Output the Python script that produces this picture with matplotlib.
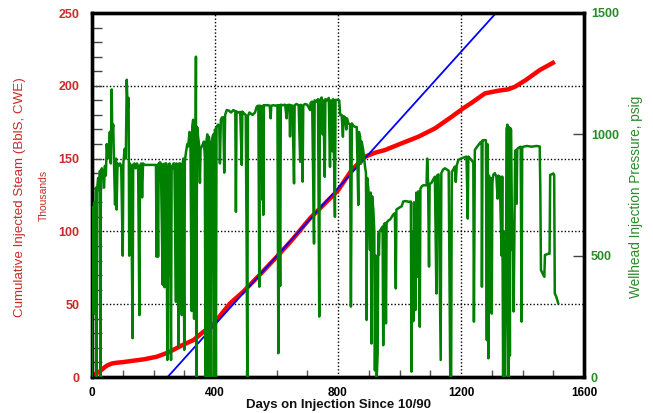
import matplotlib
matplotlib.use("Agg")
import matplotlib.pyplot as plt
from matplotlib.ticker import MultipleLocator, FixedLocator

# ---------------- data ----------------
steam_days = [0, 5, 15, 26, 40, 50, 65, 80, 100, 135, 170, 210, 250, 290, 330, 362,
              394, 420, 449, 470, 492, 540, 601, 650, 709, 750, 801, 844, 888, 920,
              953, 1007, 1061, 1115, 1170, 1207, 1235, 1278, 1321, 1354, 1376, 1411,
              1456, 1505]
steam_k = [0, 1.5, 2.5, 4.0, 6.5, 8.0, 9.3, 9.8, 10.2, 11.2, 12.2, 13.9, 17.0, 21.5,
           25.4, 31.0, 35.7, 43.0, 50.6, 54.5, 58.6, 69.0, 82.6, 94.0, 109.0, 117.6,
           128.4, 142.0, 151.3, 154.0, 155.9, 160.5, 165.0, 170.7, 178.8, 184.5, 188.4,
           194.8, 196.6, 197.6, 199.4, 204.0, 210.8, 216.5]

target_days = [246, 1314]
target_k = [0, 250]

press_days = [0, 1, 3, 5, 7, 9, 11, 13, 15, 17, 20, 23, 26, 27, 29, 32, 36, 39, 42,
              45, 48, 51, 55, 58, 61, 64, 66, 69, 72, 75, 78, 80, 83, 87, 91, 95, 100, 102,
              106, 110, 113, 116, 119, 121, 123, 127, 132, 134, 138, 142, 146, 150, 154,
              156, 160, 163, 166, 170, 180, 190, 200, 208, 210, 212, 215, 217, 221, 224,
              230, 232, 236, 238, 242, 245, 247, 250, 252, 257, 259, 262, 265, 268, 273,
              275, 278, 281, 283, 287, 292, 294, 297, 300, 302, 306, 310, 313, 317, 320,
              324, 326, 329, 332, 334, 337, 338, 339, 340, 342, 345, 348, 351, 353, 357,
              361, 364, 367, 369, 371, 375, 378, 380, 384, 387, 389, 392, 395, 397, 400,
              403, 405, 410, 414, 416, 419, 423, 427, 430, 433, 438, 445, 452, 460, 466,
              468, 470, 476, 482, 487, 489, 495, 500, 503, 505, 507, 512, 517, 522, 530,
              536, 541, 544, 546, 551, 554, 556, 557, 559, 565, 572, 578, 581, 583, 590,
              597, 603, 606, 608, 612, 614, 620, 628, 633, 635, 642, 644, 646, 652, 657,
              659, 665, 672, 677, 679, 685, 687, 693, 700, 709, 711, 716, 722, 724, 730,
              735, 739, 741, 747, 750, 752, 757, 759, 765, 770, 774, 776, 782, 784, 790,
              792, 798, 804, 807, 812, 816, 818, 823, 827, 829, 834, 839, 842, 845, 850,
              855, 861, 866, 868, 872, 875, 877, 882, 885, 888, 891, 893, 895, 899, 904,
              906, 909, 911, 915, 918, 920, 923, 926, 929, 931, 933, 935, 940, 945, 947,
              950, 953, 956, 958, 964, 970, 975, 980, 985, 988, 990, 996, 1002, 1007,
              1012, 1020, 1030, 1037, 1039, 1041, 1045, 1047, 1052, 1055, 1059, 1061,
              1066, 1068, 1072, 1077, 1084, 1088, 1090, 1093, 1096, 1098, 1104, 1110,
              1115, 1120, 1122, 1127, 1134, 1136, 1142, 1148, 1154, 1160, 1165, 1168,
              1170, 1175, 1180, 1183, 1186, 1191, 1200, 1210, 1218, 1222, 1224, 1230,
              1236, 1240, 1242, 1245, 1250, 1256, 1262, 1267, 1268, 1270, 1275, 1281,
              1284, 1286, 1289, 1291, 1294, 1297, 1300, 1302, 1305, 1310, 1315, 1319,
              1321, 1326, 1332, 1334, 1337, 1340, 1343, 1346, 1348, 1351, 1354, 1356,
              1359, 1361, 1363, 1365, 1367, 1369, 1371, 1373, 1376, 1378, 1381, 1383,
              1388, 1394, 1397, 1399, 1402, 1415, 1430, 1445, 1456, 1458, 1460, 1464,
              1468, 1471, 1473, 1478, 1484, 1488, 1490, 1495, 1500, 1503, 1505, 1510, 1516]
press_psig = [0, 660, 700, 450, 720, 260, 600, 780, 0, 780, 820, 770, 850, 0, 830, 860, 840, 780, 870,
              830, 960, 900, 940, 1010, 880, 1185, 1000, 1040, 860, 710, 900, 690, 880, 870, 880, 870, 500, 880,
              940, 900, 1225, 1100, 1150, 500, 880, 870, 160, 875, 880, 860, 880, 870, 255,
              870, 880, 740, 880, 874, 874, 874, 874, 874, 496, 874, 496, 880, 885, 880,
              380, 878, 370, 880, 880, 70, 870, 420, 880, 70, 870, 860, 880, 880, 310,
              880, 870, 124, 880, 880, 255, 870, 900, 112, 890, 930, 960, 950, 1010, 1000,
              272, 1030, 1060, 240, 1040, 1000, 1320, 0, 491, 1030, 990, 960, 800, 940, 950,
              960, 970, 907, 0, 960, 1000, 0, 990, 940, 0, 960, 990, 1000, 0, 1020,
              0, 1030, 1040, 1030, 880, 1060, 1070, 1070, 842, 1080, 1100, 1098, 1090, 1100, 1095,
              681, 1094, 1090, 1092, 874, 1094, 1085, 1080, 516, 0, 1075, 1090, 1085, 1080, 1090,
              1115, 1118, 372, 1118, 1115, 730, 1118, 668, 1120, 1120, 1120, 1118, 1066, 1118, 1120,
              1118, 1120, 98, 1120, 375, 1122, 1120, 1122, 1066, 1120, 1122, 991, 1120, 1118, 798,
              1120, 1125, 1120, 887, 1122, 805, 1120, 1125, 1122, 1100, 1130, 1135, 550, 1140, 1135,
              1145, 249, 1140, 1152, 1000, 1140, 825, 1145, 1140, 1150, 866, 1140, 930, 1145, 660,
              1142, 1142, 1140, 1080, 1080, 990, 1075, 1070, 1020, 1066, 1045, 1040, 290, 1045, 1035,
              1031, 1030, 709, 1010, 990, 880, 970, 935, 900, 866, 840, 235, 820, 770, 524,
              760, 138, 745, 688, 600, 27, 500, 0, 98, 593, 503, 600, 610, 620, 131,
              630, 634, 221, 636, 645, 650, 660, 670, 675, 365, 690, 695, 700, 703,
              723, 725, 722, 723, 22, 600, 230, 720, 276, 760, 413, 765,
              207, 775, 785, 790, 790, 790, 900, 800, 455, 795, 800, 815,
              825, 344, 830, 835, 70, 840, 855, 860, 855, 850, 0, 0,
              845, 855, 867, 804, 870, 894, 900, 905, 908, 653, 908, 900,
              890, 885, 228, 935, 945, 955, 965, 970, 372, 975, 976, 976,
              152, 960, 77, 830, 560, 820, 261, 800, 833, 840, 826, 735,
              830, 826, 500, 826, 0, 600, 0, 300, 1020, 1040, 0, 1030,
              88, 1025, 1018, 714, 524, 600, 270, 500, 930, 935, 714, 940,
              945, 949, 228, 945, 949, 952, 949, 952, 950, 764, 441, 430,
              420, 413, 503, 505, 508, 508, 833, 835, 839, 833, 345, 330, 304]

x_ticks = [0, 400, 800, 1200, 1600]
left_ticks = [0, 50, 100, 150, 200, 250]
right_ticks = [0, 500, 1000, 1500]

RED = "#ff0000"
GREEN = "#008000"
BLUE = "#0000ff"
RED_TXT = "#cc2a2a"
GREEN_TXT = "#2a8a2a"

plt.rcParams["font.family"] = ["Liberation Sans", "DejaVu Sans"]

fig = plt.figure(figsize=(6.53, 4.13), dpi=100)
ax1 = fig.add_axes([92 / 653, 1 - 377 / 413, 492 / 653, 364 / 413])
ax2 = ax1.twinx()

ax1.plot(steam_days, steam_k, color=RED, lw=3.2, solid_capstyle="butt", zorder=3)
ax1.plot(target_days, target_k, color=BLUE, lw=1.3, zorder=4)
ax2.plot(press_days, press_psig, color=GREEN, lw=1.8, zorder=3)

ax1.set_xlim(0, 1600)
ax1.set_ylim(0, 250)
ax2.set_ylim(0, 1500)

ax1.xaxis.set_major_locator(FixedLocator(x_ticks))
ax1.xaxis.set_minor_locator(MultipleLocator(100))
ax1.yaxis.set_major_locator(FixedLocator(left_ticks))
ax1.yaxis.set_minor_locator(MultipleLocator(10))
ax2.yaxis.set_major_locator(FixedLocator(right_ticks))

# grid (dotted) on left axis scale
for xv in [400, 800, 1200]:
    ax1.axvline(xv, color="black", lw=1.0, ls=(0, (1, 1.5)), zorder=1)
for yv in [50, 100, 150, 200]:
    ax1.axhline(yv, color="black", lw=1.0, ls=(0, (1, 1.5)), zorder=1)

ax1.tick_params(axis="x", which="both", direction="in", length=5, width=1,
                color="#555555", pad=7, labelsize=8.5)
ax1.tick_params(axis="y", which="both", direction="in", length=7, width=1,
                color="#444444", pad=9, labelsize=9, labelcolor=RED_TXT)
ax1.tick_params(axis="x", which="major", length=0)
ax1.tick_params(axis="y", which="major", length=7)
ax2.tick_params(axis="y", which="major", direction="in", length=8, width=1,
                color="#444444", pad=5, labelsize=9, labelcolor=GREEN_TXT)

for lab in ax1.get_xticklabels() + ax1.get_yticklabels() + ax2.get_yticklabels():
    lab.set_fontweight("bold")

for ax in (ax1, ax2):
    for s in ax.spines.values():
        s.set_linewidth(2.4)
        s.set_color("black")

ax1.text(-0.146, 0.495, "Cumulative Injected Steam (BblS, CWE)", transform=ax1.transAxes,
         rotation=90, ha="center", va="center", color=RED_TXT, fontsize=9.6)
ax1.text(-0.098, 0.50, "Thousands", transform=ax1.transAxes, rotation=90,
         ha="center", va="center", color=RED_TXT, fontsize=7.5)
ax2.text(1.106, 0.495, "Wellhead Injection Pressure, psig", transform=ax2.transAxes,
         rotation=90, ha="center", va="center", color=GREEN_TXT, fontsize=9.8)
ax1.text(0.5, -0.094, "Days on Injection Since 10/90", transform=ax1.transAxes,
         ha="center", va="bottom", color="#111111", fontsize=9.5, fontweight="bold")

fig.savefig("out.png", dpi=100)
